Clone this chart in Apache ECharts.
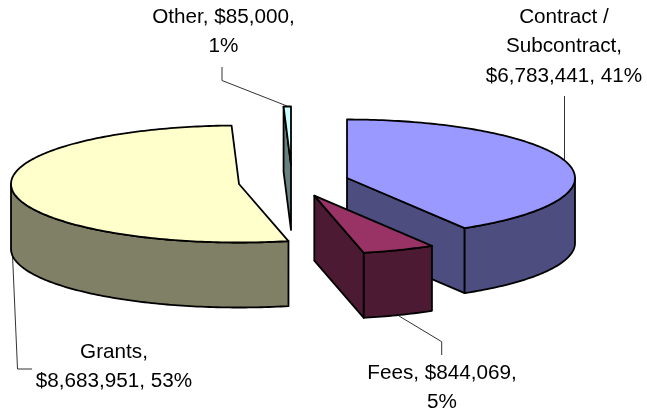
<!DOCTYPE html>
<html>
<head>
<meta charset="utf-8">
<style>html,body{margin:0;padding:0;background:#fff}#c{width:647px;height:414px}</style>
<script src="https://cdn.jsdelivr.net/npm/echarts@6/dist/echarts.min.js"></script>
</head>
<body>
<div id="c"></div>
<script>
// Data (clockwise from 12 o'clock)
var categories = ['Contract / Subcontract', 'Fees', 'Grants', 'Other'];
var values = [6783441, 844069, 8683951, 85000];
var topColors = ['#9999FF', '#993366', '#FFFFCC', '#CCFFFF'];
var wallColors = ['#4D4D80', '#4D1A33', '#808066', '#668080'];

// Layout of the exploded 3D pie
var centers = [[347, 178], [314.3, 195.7], [239, 184], [291, 165]];
var RX = 228, RY = 58.5, H = 65;
var visibleCut = ['end', 'end', null, 'start'];
var drawOrder = [3, 2, 0, 1];
var labelLines = [
  ['Contract /', 'Subcontract,', '$6,783,441, 41%'],
  ['Fees, $844,069,', '5%'],
  ['Grants,', '$8,683,951, 53%'],
  ['Other, $85,000,', '1%']
];
var labelPos = [[564, 17], [442, 373], [114, 352], [223.5, 17]];
var leaders = [
  [[564.5, 96], [564.5, 160]],
  [[399, 316], [441.7, 341.7], [441.7, 355]],
  [[12.5, 255], [17.5, 369], [32, 369]],
  [[222, 67], [222, 80.5], [287, 106]]
];

var total = values.reduce(function (a, b) { return a + b; }, 0);
var startAngles = [];
(function () { var acc = 0; values.forEach(function (v) { startAngles.push(acc / total * 360); acc += v; }); })();

function rim(c, deg, dz) {
  var r = deg * Math.PI / 180;
  return [c[0] + RX * Math.sin(r), c[1] - RY * Math.cos(r) + (dz || 0)];
}
function arc(c, a, b, dz) {
  var pts = [];
  for (var d = a; d < b; d += 1) pts.push(rim(c, d, dz));
  pts.push(rim(c, b, dz));
  return pts;
}
function poly(points, fill) {
  return {
    type: 'polygon',
    shape: { points: points },
    style: { fill: fill, stroke: '#000', lineWidth: 1.8, lineJoin: 'round' }
  };
}

function renderSlice(params) {
  var i = drawOrder[params.dataIndex];
  var c = centers[i];
  var a = startAngles[i];
  var b = a + values[i] / total * 360;
  var children = [];
  var cutAngle = visibleCut[i] === 'start' ? a : b;
  if (visibleCut[i]) {
    children.push(poly([c, rim(c, cutAngle), rim(c, cutAngle, H), [c[0], c[1] + H]], wallColors[i]));
  }
  var wa = Math.max(a, 90), wb = Math.min(b, 270);
  if (wb > wa) {
    children.push(poly(arc(c, wa, wb, 0).concat(arc(c, wa, wb, H).reverse()), wallColors[i]));
  }
  children.push(poly([c].concat(arc(c, a, b, 0)), topColors[i]));
  return { type: 'group', children: children };
}

var graphics = [];
leaders.forEach(function (pts) {
  graphics.push({
    type: 'polyline', silent: true, z: 0,
    shape: { points: pts },
    style: { stroke: '#333', lineWidth: 1, fill: null }
  });
});
labelLines.forEach(function (lines, i) {
  lines.forEach(function (t, j) {
    graphics.push({
      type: 'text', silent: true, z: 10,
      style: {
        text: t, x: labelPos[i][0], y: labelPos[i][1] + j * 29.7,
        fill: '#000', align: 'center', verticalAlign: 'middle',
        font: '20.7px "Liberation Sans", Arial, sans-serif'
      }
    });
  });
});

var chart = echarts.init(document.getElementById('c'), null, { renderer: 'canvas' });
chart.setOption({
  animation: false,
  backgroundColor: '#fff',
  graphic: { elements: graphics },
  series: [{
    type: 'custom',
    coordinateSystem: 'none',
    silent: true,
    z: 5,
    renderItem: renderSlice,
    data: drawOrder.map(function (i) { return { name: categories[i], value: values[i] }; })
  }]
});
</script>
</body>
</html>
